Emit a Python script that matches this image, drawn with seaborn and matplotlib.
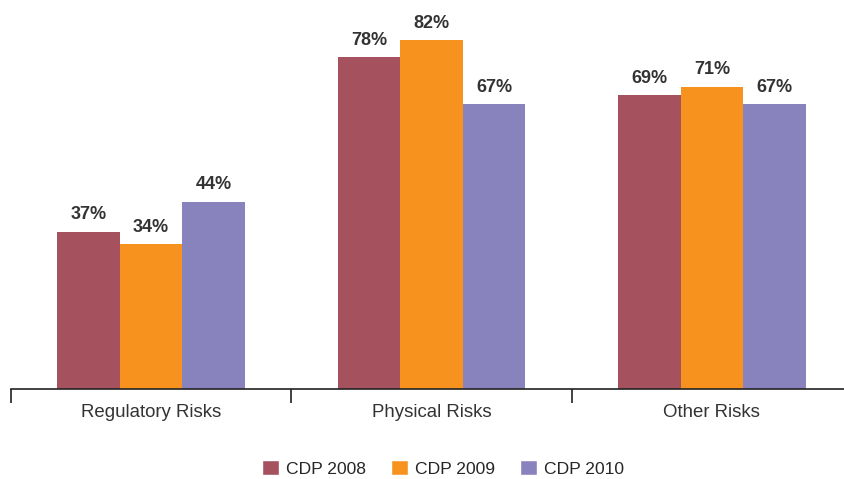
import pandas as pd
import matplotlib.pyplot as plt
import seaborn as sns
from matplotlib.patches import Patch

categories = ['Regulatory Risks', 'Physical Risks', 'Other Risks']
series = ['CDP 2008', 'CDP 2009', 'CDP 2010']
cdp_2008 = [37, 78, 69]
cdp_2009 = [34, 82, 71]
cdp_2010 = [44, 67, 67]

colors = ['#A6525E', '#F7921E', '#8882BD']

rows = []
for name, vals in zip(series, [cdp_2008, cdp_2009, cdp_2010]):
    for cat, v in zip(categories, vals):
        rows.append({'category': cat, 'series': name, 'value': v})
df = pd.DataFrame(rows)

sns.set_style('white')
plt.rcParams['font.family'] = ['Liberation Sans', 'DejaVu Sans']

fig = plt.figure(figsize=(8.44, 4.79), dpi=100)
# axes runs from x=11px to just past the right edge, baseline at y=389px
ax = fig.add_axes([11 / 844, (479 - 389) / 479, 841 / 844, 389 / 479])

sns.barplot(data=df, x='category', y='value', hue='series', order=categories,
            hue_order=series, palette=colors, width=0.67, gap=0,
            saturation=1, legend=False, linewidth=0, ax=ax)

for container in ax.containers:
    ax.bar_label(container, labels=[f'{v:.0f}%' for v in container.datavalues],
                 padding=6, fontsize=13, fontweight='bold', color='#333333')

ax.set_xlim(-0.5, 2.5)
ax.set_ylim(0, 91.4)
ax.set_xlabel('')
ax.set_ylabel('')
ax.set_yticks([])
for side in ['top', 'right', 'left']:
    ax.spines[side].set_visible(False)
ax.spines['bottom'].set_color('#222222')
ax.spines['bottom'].set_linewidth(1.2)

ax.set_xticks([0, 1, 2])
ax.set_xticklabels(categories, fontsize=13.4, color='#333333')
ax.tick_params(axis='x', which='major', length=0, pad=11)
ax.set_xticks([-0.5, 0.5, 1.5, 2.5], minor=True)
ax.tick_params(axis='x', which='minor', length=10, width=1.2, color='#222222',
               direction='out', bottom=True)

handles = [Patch(facecolor=c, label=s) for c, s in zip(colors, series)]
fig.legend(handles=handles, loc='lower center', bbox_to_anchor=(0.525, -0.028),
           ncol=3, frameon=False, fontsize=12.6, handlelength=1.0,
           handleheight=1.0, handletextpad=0.4, columnspacing=1.4)

fig.savefig('out.png', dpi=100)
